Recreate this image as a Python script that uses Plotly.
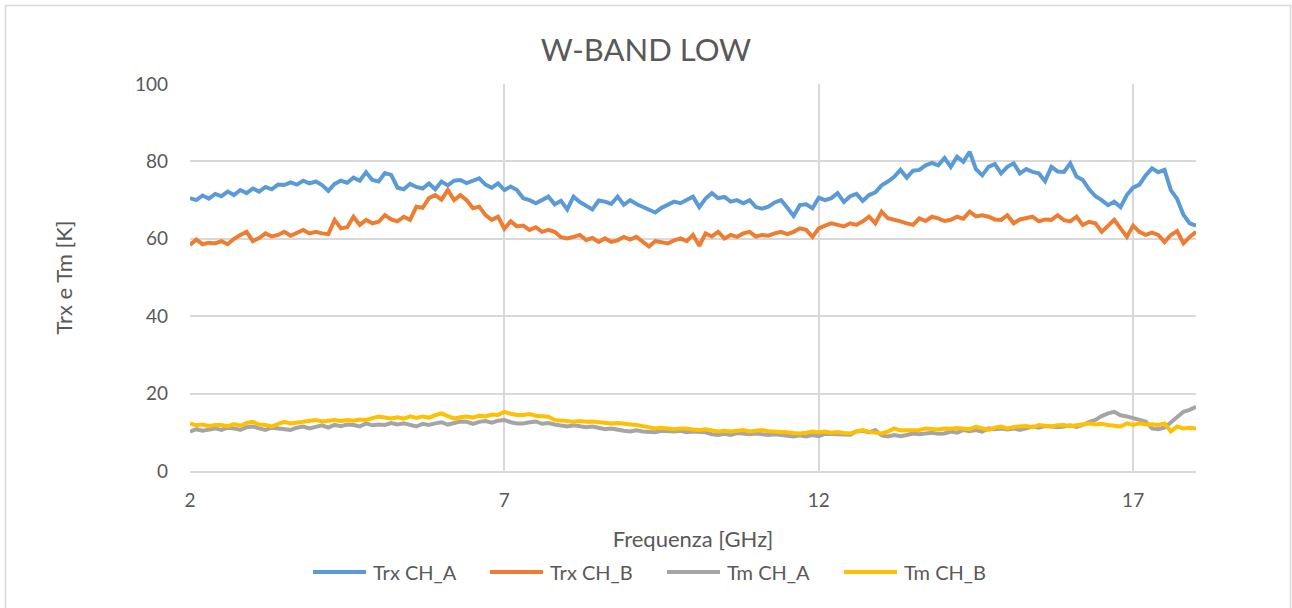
import numpy as np
import plotly.graph_objects as go

# frequency axis, 2 - 18 GHz in 0.1 GHz steps
freq = np.round(np.arange(2.0, 18.0001, 0.1), 1)

# Trx CH_A [K]
trx_a = [
    70.5, 70.0, 71.2, 70.4, 71.6, 71.0, 72.2, 71.3, 72.6, 71.8,
    73.0, 72.2, 73.4, 72.8, 74.0, 73.9, 74.6, 74.0, 75.0, 74.3,
    74.8, 73.9, 72.4, 74.2, 75.0, 74.5, 75.8, 75.0, 77.2, 75.2,
    74.8, 77.0, 76.5, 73.2, 72.8, 74.2, 73.4, 73.0, 74.3, 72.8,
    74.8, 73.8, 75.0, 75.2, 74.4, 75.0, 75.6, 74.0, 73.2, 74.3,
    72.6, 73.5, 72.6, 70.5, 70.0, 69.2, 70.2, 70.9, 68.9, 69.8,
    67.6, 70.9, 69.5, 68.6, 67.6, 69.9, 69.6, 69.0, 70.9, 68.8,
    70.0, 69.0, 68.2, 67.4, 66.8, 68.0, 68.8, 69.6, 69.2, 70.2,
    70.9, 68.2, 70.4, 71.8, 70.5, 70.8, 69.6, 70.0, 69.2, 70.0,
    68.2, 67.8, 68.3, 69.4, 70.0, 68.0, 65.9, 68.7, 68.9, 67.9,
    70.6, 70.0, 70.5, 71.8, 69.5, 71.0, 71.6, 69.8, 71.3, 72.0,
    73.8, 74.8, 76.0, 77.8, 75.8, 77.6, 77.8, 79.0, 79.6, 79.0,
    80.9, 78.6, 81.2, 79.9, 82.5, 78.0, 76.4, 78.6, 79.3, 76.9,
    78.6, 79.5, 76.9, 78.0, 77.3, 76.9, 74.9, 78.6, 77.4, 77.3,
    79.5, 76.1, 75.2, 72.8, 71.0, 70.0, 68.7, 69.6, 68.2, 71.3,
    73.2, 74.0, 76.4, 78.2, 77.2, 77.8, 72.6, 70.3, 66.2, 64.0,
    63.4,
]

# Trx CH_B [K]
trx_b = [
    58.4, 59.8, 58.6, 59.0, 58.8, 59.4, 58.6, 60.0, 61.0, 61.8,
    59.4, 60.2, 61.4, 60.6, 61.0, 61.8, 60.8, 61.6, 62.3, 61.4,
    61.8, 61.4, 61.2, 64.9, 62.7, 63.0, 65.7, 63.6, 64.9, 64.0,
    64.4, 66.1, 65.0, 64.5, 65.7, 64.9, 68.3, 68.0, 70.5, 71.3,
    70.1, 72.6, 70.0, 71.3, 70.0, 67.9, 68.3, 66.1, 64.9, 65.7,
    62.6, 64.5, 63.2, 63.4, 62.3, 63.0, 61.8, 62.3, 61.8, 60.4,
    60.1, 60.5, 61.0, 59.7, 60.2, 59.2, 60.1, 59.2, 59.6, 60.5,
    59.8, 60.5, 59.4, 58.0, 59.4, 59.2, 58.8, 59.6, 60.1, 59.4,
    61.0, 58.2, 61.4, 60.6, 61.8, 60.1, 61.0, 60.5, 61.4, 61.8,
    60.6, 61.0, 60.8, 61.4, 61.8, 61.2, 61.8, 62.7, 62.3, 60.5,
    62.7, 63.4, 64.0, 63.6, 63.2, 64.0, 63.6, 64.5, 65.7, 64.0,
    67.0, 65.3, 65.0, 64.5, 64.0, 63.6, 65.3, 64.6, 65.7, 65.3,
    64.6, 64.9, 65.7, 65.2, 67.0, 65.8, 66.1, 65.7, 65.0, 64.9,
    66.1, 64.0, 65.0, 65.3, 65.7, 64.5, 65.0, 64.9, 66.1, 64.8,
    64.5, 65.7, 63.6, 64.4, 64.0, 61.8, 63.4, 64.9, 62.7, 60.5,
    63.4, 61.8, 61.0, 61.6, 61.0, 59.2, 61.0, 62.0, 58.8, 60.5,
    61.8,
]

# Tm CH_A [K]
tm_a = [
    10.2, 10.8, 10.4, 10.8, 11.0, 10.6, 11.2, 11.0, 10.6, 11.3,
    11.5, 11.0, 10.6, 11.2, 11.0, 10.8, 10.6, 11.2, 11.5, 11.0,
    11.5, 11.8, 11.2, 11.9, 11.6, 12.0, 11.9, 11.5, 12.3, 11.8,
    12.0, 11.9, 12.4, 12.0, 12.3, 11.8, 11.5, 12.2, 11.9, 12.3,
    12.6, 12.0, 12.3, 12.8, 12.7, 12.2, 12.7, 12.9, 12.5, 13.0,
    13.2, 12.6, 12.3, 12.3, 12.6, 12.8, 12.2, 12.4, 12.0, 11.8,
    11.5, 11.8, 11.5, 11.3, 11.5, 11.1, 10.8, 11.0, 10.6, 10.4,
    10.2, 10.5, 10.2, 10.2, 10.0, 10.4, 10.2, 10.2, 10.4, 10.0,
    10.2, 10.2, 10.0, 9.5, 9.3, 9.6, 9.3, 9.8, 9.7, 9.5,
    9.7, 9.4, 9.3, 9.5, 9.3, 9.0, 8.9, 9.2, 8.9, 9.3,
    9.0, 9.6, 9.5, 9.4, 9.3, 9.4, 10.2, 10.4, 10.0, 10.6,
    9.2, 8.9, 9.3, 9.0, 9.3, 9.7, 9.5, 9.7, 9.9, 9.6,
    9.7, 10.2, 9.9, 10.6, 10.3, 10.6, 10.2, 11.0, 10.8, 11.0,
    10.7, 11.0, 10.6, 11.0, 11.5, 11.2, 11.6, 11.5, 11.3, 11.5,
    11.8, 11.4, 11.9, 12.7, 13.2, 14.2, 14.9, 15.3, 14.4, 14.1,
    13.6, 13.2, 12.8, 11.0, 10.8, 11.2, 12.6, 14.0, 15.3, 15.8,
    16.6,
]

# Tm CH_B [K]
tm_b = [
    12.3, 11.8, 12.0, 11.6, 11.9, 11.9, 11.6, 12.1, 11.7, 12.4,
    12.7, 12.0, 11.9, 11.5, 12.2, 12.7, 12.3, 12.5, 12.7, 12.9,
    13.2, 12.8, 13.0, 13.2, 12.9, 13.2, 13.0, 13.3, 13.2, 13.6,
    14.1, 13.8, 13.6, 13.9, 13.5, 14.1, 13.7, 14.1, 13.8, 14.4,
    14.9, 14.2, 13.6, 13.9, 14.1, 13.8, 14.3, 14.1, 14.6, 14.5,
    15.3, 14.8, 14.5, 14.5, 14.7, 14.3, 14.1, 14.0, 13.2, 13.0,
    12.8, 12.7, 12.9, 12.7, 12.8, 12.6, 12.5, 12.3, 12.4, 12.3,
    12.0, 11.9, 11.6, 11.2, 11.0, 11.2, 11.0, 10.8, 11.0, 11.0,
    10.7, 10.6, 10.8, 10.6, 10.2, 10.4, 10.2, 10.4, 10.6, 10.2,
    10.4, 10.6, 10.3, 10.2, 10.3, 10.0, 9.8, 9.7, 9.9, 10.2,
    10.0, 10.2, 9.9, 10.1, 9.8, 9.7, 10.2, 10.6, 10.1, 9.8,
    9.7, 10.2, 11.0, 10.5, 10.6, 10.7, 10.6, 11.0, 10.8, 10.7,
    11.0, 10.9, 11.1, 11.0, 10.8, 11.5, 11.0, 10.6, 11.2, 11.5,
    11.0, 11.4, 11.5, 11.6, 11.3, 11.9, 11.7, 11.5, 11.8, 11.9,
    11.6, 11.9, 12.0, 12.3, 12.0, 12.2, 11.9, 11.8, 11.5, 12.3,
    11.9, 12.3, 12.0, 12.1, 11.9, 12.3, 10.2, 11.5, 11.0, 11.2,
    11.0,
]

series = [
    ("Trx CH_A", trx_a, "#5b9bd5"),
    ("Trx CH_B", trx_b, "#ed7d31"),
    ("Tm CH_A", tm_a, "#a5a5a5"),
    ("Tm CH_B", tm_b, "#ffc000"),
]

FONT = "Lato, 'Open Sans', sans-serif"
TXT = "#595959"
GRID = "#d9d9d9"

W, H = 1292, 608
L, R, T, B = 190, 96, 84, 137
pw, ph = W - L - R, H - T - B


def px_x(p):
    # page pixel -> paper x
    return (p - L) / pw


def px_y(p):
    # page pixel -> paper y
    return (H - B - p) / ph


fig = go.Figure()
for name, vals, col in series:
    fig.add_trace(go.Scatter(x=freq, y=vals, mode="lines", name=name,
                             line=dict(color=col, width=4), showlegend=False))

fig.update_layout(
    width=W, height=H,
    margin=dict(l=L, r=R, t=T, b=B, autoexpand=False),
    paper_bgcolor="white", plot_bgcolor="white",
    font=dict(family=FONT, color=TXT, size=19),
    title=dict(text="W-BAND LOW", x=0.5, xref="container", xanchor="center",
               y=1 - 50 / H, yref="container", yanchor="middle",
               font=dict(size=31, color=TXT, family=FONT)),
)

fig.update_xaxes(
    range=[2, 18], tickvals=[2, 7, 12, 17], showgrid=True, gridcolor=GRID,
    gridwidth=1.5, zeroline=False, showline=True, linecolor=GRID, linewidth=1.5,
    ticks="", ticklabelstandoff=11, tickfont=dict(size=19, color=TXT),
    title=dict(text="Frequenza [GHz]", font=dict(size=22, color=TXT), standoff=22),
)
fig.update_yaxes(
    range=[0, 100], tickvals=[0, 20, 40, 60, 80, 100], showgrid=True,
    gridcolor=GRID, gridwidth=1.5, zeroline=False, showline=False,
    ticks="", ticklabelstandoff=21, tickfont=dict(size=19, color=TXT),
    title=dict(text="Trx e Tm [K]", font=dict(size=22, color=TXT), standoff=56),
)

# legend drawn by hand, Excel style (long line samples)
leg_x0, leg_step, leg_len, leg_y = 313, 177, 53, 572
for i, (name, vals, col) in enumerate(series):
    x0 = leg_x0 + i * leg_step
    fig.add_shape(type="line", xref="paper", yref="paper",
                  x0=px_x(x0), x1=px_x(x0 + leg_len),
                  y0=px_y(leg_y), y1=px_y(leg_y),
                  line=dict(color=col, width=4))
    fig.add_annotation(text=name, xref="paper", yref="paper",
                       x=px_x(x0 + leg_len + 5), y=px_y(leg_y),
                       xanchor="left", yanchor="middle", showarrow=False,
                       font=dict(size=20, color=TXT, family=FONT))

# chart-area border
fig.add_shape(type="rect", xref="paper", yref="paper",
              x0=px_x(5.5), x1=px_x(1290.5), y0=px_y(612), y1=px_y(5.5),
              line=dict(color=GRID, width=1.5), fillcolor="rgba(0,0,0,0)",
              layer="below")

assert all(len(s[1]) == len(freq) for s in series)

fig.write_html("out.html", config={"displayModeBar": False},
               post_script="document.body.style.margin='0px';")
